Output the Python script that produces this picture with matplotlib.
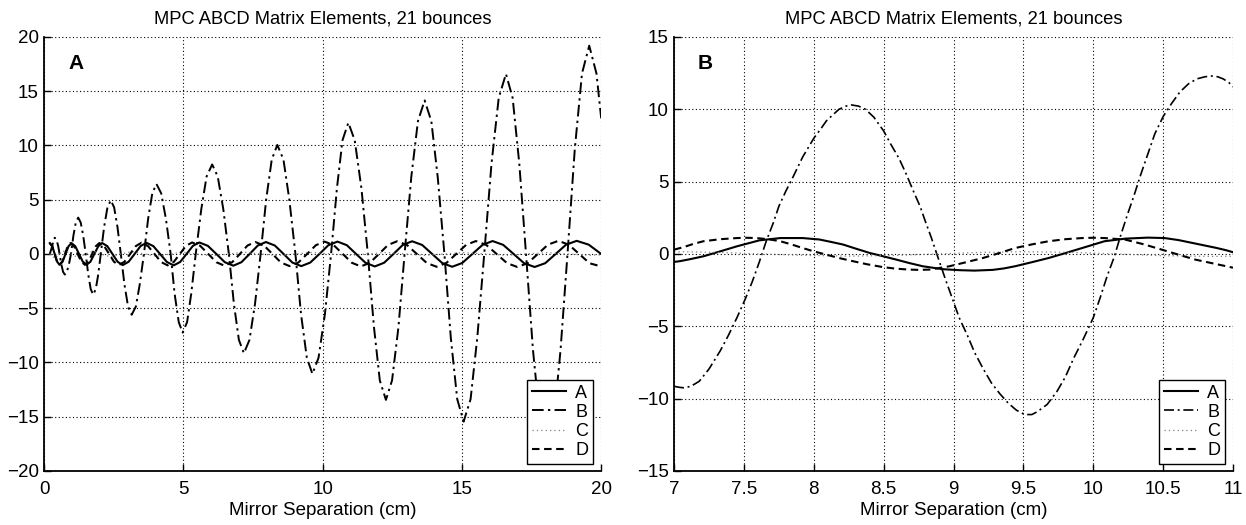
import matplotlib
matplotlib.use("Agg")
import matplotlib.pyplot as plt
from matplotlib.ticker import FixedLocator, FixedFormatter

plt.rcParams['font.family'] = ['Liberation Sans', 'DejaVu Sans']

# ---------------- data: panel A (0 - 20 cm) ----------------
title_text = "MPC ABCD Matrix Elements, 21 bounces"
xlabel_text = "Mirror Separation (cm)"
series_names = ["A", "B", "C", "D"]

xa_A = [0.20, 0.2875, 0.375, 0.4625,
        0.55, 0.6575, 0.765, 0.8725,
        0.98, 1.115, 1.25, 1.385,
        1.52, 1.66, 1.80, 1.94,
        2.08, 2.265, 2.45, 2.635,
        2.82, 3.03, 3.245, 3.46,
        3.67, 3.915, 4.16, 4.405,
        4.65, 4.88, 5.11, 5.34,
        5.57, 5.875, 6.18, 6.485,
        6.79, 7.08, 7.375, 7.67,
        7.96, 8.28, 8.595, 8.91,
        9.23, 9.555, 9.88, 10.205,
        10.53, 10.865, 11.20, 11.535,
        11.87, 12.205, 12.54, 12.875,
        13.21, 13.57, 13.93, 14.29,
        14.65, 15.01, 15.375, 15.74,
        16.10, 16.48, 16.855, 17.23,
        17.61, 17.99, 18.365, 18.74,
        19.12, 19.55, 20.0]
ya_A = [1.0, 0.71, 0.0, -0.71,
        -1.0, -0.71, 0.0, 0.71,
        1.0, 0.71, 0.0, -0.71,
        -1.0, -0.71, 0.0, 0.71,
        1.01, 0.72, 0.0, -0.72,
        -1.02, -0.72, 0.0, 0.73,
        1.03, 0.73, 0.0, -0.74,
        -1.05, -0.74, 0.0, 0.75,
        1.06, 0.75, 0.0, -0.76,
        -1.08, -0.76, 0.0, 0.78,
        1.10, 0.78, 0.0, -0.79,
        -1.12, -0.79, 0.0, 0.81,
        1.14, 0.81, 0.0, -0.81,
        -1.15, -0.81, 0.0, 0.83,
        1.17, 0.83, 0.0, -0.83,
        -1.18, -0.83, 0.0, 0.84,
        1.19, 0.84, 0.0, -0.85,
        -1.20, -0.85, 0.0, 0.86,
        1.21, 0.86, 0.0]

xa_B = [0.20, 0.29, 0.33, 0.38, 0.44, 0.50, 0.55,
        0.613, 0.677, 0.74, 0.813, 0.887, 0.96,
        1.047, 1.133, 1.22, 1.31, 1.40, 1.49,
        1.58, 1.67, 1.76, 1.85, 1.94, 2.03,
        2.15, 2.27, 2.39, 2.51, 2.63, 2.75,
        2.88, 3.01, 3.14, 3.29, 3.43, 3.58,
        3.73, 3.88, 4.03, 4.20, 4.37, 4.54,
        4.68, 4.83, 4.97, 5.13, 5.28, 5.44,
        5.64, 5.83, 6.03, 6.23, 6.43, 6.63,
        6.81, 6.99, 7.17, 7.37, 7.57, 7.77,
        7.97, 8.17, 8.37, 8.59, 8.80, 9.02,
        9.22, 9.43, 9.63, 9.85, 10.08, 10.30,
        10.51, 10.71, 10.92, 11.15, 11.39, 11.62,
        11.84, 12.05, 12.27, 12.49, 12.72, 12.94,
        13.18, 13.42, 13.66, 13.90, 14.13, 14.37,
        14.60, 14.83, 15.06, 15.31, 15.55, 15.80,
        16.06, 16.32, 16.58, 16.82, 17.06, 17.30,
        17.55, 17.80, 18.05, 18.30, 18.54, 18.79,
        19.05, 19.31, 19.57, 19.83, 20.0]
ya_B = [0.0, 0.75, 1.3, 1.5, 1.3, 0.75, 0.0,
        -0.95, -1.65, -1.9, -1.65, -0.95, 0.0,
        1.68, 2.9, 3.35, 2.9, 1.68, 0.0,
        -1.88, -3.25, -3.75, -3.25, -1.88, 0.0,
        2.48, 4.29, 4.95, 4.29, 2.48, 0.0,
        -2.8, -4.85, -5.6, -4.85, -2.8, 0.0,
        3.23, 5.59, 6.45, 5.59, 3.23, 0.0,
        -3.63, -6.28, -7.25, -6.28, -3.63, 0.0,
        4.13, 7.14, 8.25, 7.14, 4.13, 0.0,
        -4.58, -7.92, -9.15, -7.92, -4.58, 0.0,
        5.03, 8.70, 10.05, 8.70, 5.03, 0.0,
        -5.53, -9.57, -11.05, -9.57, -5.53, 0.0,
        6.05, 10.48, 12.1, 10.48, 6.05, 0.0,
        -6.73, -11.65, -13.45, -11.65, -6.73, 0.0,
        7.08, 12.25, 14.15, 12.25, 7.08, 0.0,
        -7.73, -13.38, -15.45, -13.38, -7.73, 0.0,
        8.3, 14.38, 16.6, 14.38, 8.3, 0.0,
        -8.85, -15.33, -17.7, -15.33, -8.85, 0.0,
        9.6, 16.63, 19.2, 16.63, 12.5]

xa_C = [0.20, 0.38, 0.55, 0.74, 0.96, 1.22, 1.49, 1.76, 2.03, 2.39, 2.75, 3.14,
        3.58, 4.03, 4.54, 4.97, 5.44, 6.03, 6.63, 7.17, 7.77, 8.37, 9.02, 9.63,
        10.30, 10.92, 11.62, 12.27, 12.94, 13.66, 14.37, 15.06, 15.80, 16.58,
        17.30, 18.05, 18.79, 19.57, 20.0]
ya_C = [0.0, -0.4, 0.0, 0.32, 0.0, -0.34, 0.0, 0.27, 0.0, -0.26, 0.0, 0.22,
        0.0, -0.2, 0.0, 0.18, 0.0, -0.17, 0.0, 0.16, 0.0, -0.15, 0.0, 0.14,
        0.0, -0.14, 0.0, 0.14, 0.0, -0.13, 0.0, 0.13, 0.0, -0.13,
        0.0, 0.12, 0.0, -0.12, -0.08]

xa_D = [0.20, 0.2875, 0.375, 0.46,
        0.55, 0.6475, 0.745, 0.8425,
        0.94, 1.07, 1.20, 1.33,
        1.46, 1.59, 1.72, 1.85,
        1.98, 2.155, 2.33, 2.505,
        2.68, 2.88, 3.085, 3.29,
        3.49, 3.725, 3.96, 4.195,
        4.43, 4.65, 4.87, 5.09,
        5.31, 5.60, 5.89, 6.18,
        6.47, 6.75, 7.025, 7.30,
        7.58, 7.89, 8.195, 8.50,
        8.81, 9.125, 9.44, 9.755,
        10.07, 10.395, 10.72, 11.045,
        11.37, 11.695, 12.02, 12.345,
        12.67, 13.025, 13.38, 13.735,
        14.09, 14.44, 14.795, 15.15,
        15.50, 15.87, 16.245, 16.62,
        16.99, 17.36, 17.725, 18.09,
        18.46, 18.835, 19.21, 19.585,
        20.0]
ya_D = [1.0, 0.71, 0.0, -0.71,
        -1.0, -0.71, 0.0, 0.71,
        1.0, 0.71, 0.0, -0.71,
        -1.0, -0.71, 0.0, 0.71,
        1.01, 0.72, 0.0, -0.72,
        -1.02, -0.72, 0.0, 0.73,
        1.03, 0.73, 0.0, -0.74,
        -1.05, -0.74, 0.0, 0.75,
        1.06, 0.75, 0.0, -0.76,
        -1.08, -0.76, 0.0, 0.78,
        1.10, 0.78, 0.0, -0.79,
        -1.12, -0.79, 0.0, 0.81,
        1.14, 0.81, 0.0, -0.81,
        -1.15, -0.81, 0.0, 0.83,
        1.17, 0.83, 0.0, -0.83,
        -1.18, -0.83, 0.0, 0.84,
        1.19, 0.84, 0.0, -0.85,
        -1.20, -0.85, 0.0, 0.86,
        1.21, 0.86, 0.0, -0.86,
        -1.15]

# ---------------- data: panel B (7 - 11 cm) ----------------
xb_A = [7.0, 7.04, 7.12, 7.21, 7.33, 7.45, 7.61, 7.76, 7.92, 8.04, 8.12, 8.21, 8.30,
        8.40, 8.50, 8.59, 8.68, 8.78, 8.92, 9.04, 9.15, 9.28, 9.36, 9.44, 9.56, 9.68,
        9.80, 9.92, 10.08, 10.23, 10.39, 10.51, 10.61, 10.71, 10.80, 10.88, 10.95, 11.0]
yb_A = [-0.55, -0.5, -0.35, -0.16, 0.18, 0.53, 0.94, 1.1, 1.1, 1.0, 0.84, 0.65, 0.37,
        0.07, -0.17, -0.39, -0.62, -0.85, -1.05, -1.12, -1.15, -1.1, -1.0, -0.85, -0.57,
        -0.28, 0.06, 0.41, 0.88, 1.06, 1.13, 1.1, 0.96, 0.76, 0.58, 0.42, 0.26, 0.12]

xb_B = [7.0, 7.04, 7.07, 7.12, 7.18, 7.25, 7.33, 7.39, 7.45, 7.51, 7.56, 7.61, 7.66,
        7.71, 7.75, 7.80, 7.85, 7.92, 8.0, 8.05, 8.09, 8.14, 8.18, 8.23, 8.27, 8.32,
        8.37, 8.43, 8.5, 8.55, 8.61, 8.66, 8.71, 8.76, 8.80, 8.84, 8.88, 8.94, 8.99,
        9.04, 9.10, 9.15, 9.21, 9.27, 9.33, 9.39, 9.45, 9.51, 9.56, 9.60, 9.67, 9.74,
        9.80, 9.86, 9.93, 10.0, 10.05, 10.1, 10.15, 10.19, 10.24, 10.29, 10.34, 10.39,
        10.44, 10.5, 10.56, 10.62, 10.68, 10.74, 10.80, 10.85, 10.89, 10.93, 10.97, 11.0]
yb_B = [-9.15, -9.22, -9.25, -9.15, -8.8, -7.95, -6.7, -5.6, -4.4, -3.1, -1.9, -0.55, 0.9,
        2.15, 3.3, 4.35, 5.3, 6.7, 8.0, 8.65, 9.2, 9.65, 10.0, 10.22, 10.3, 10.22,
        10.0, 9.45, 8.5, 7.6, 6.6, 5.55, 4.4, 3.3, 2.2, 1.15, 0.0, -1.7, -3.05,
        -4.4, -5.65, -6.8, -7.9, -8.9, -9.65, -10.3, -10.8, -11.1, -11.1, -10.9, -10.4, -9.5,
        -8.5, -7.2, -5.85, -4.4, -3.0, -1.5, -0.2, 1.1, 2.6, 4.0, 5.5, 6.9,
        8.3, 9.5, 10.4, 11.2, 11.75, 12.1, 12.25, 12.3, 12.25, 12.1, 11.85, 11.55]

xb_C = [7.0, 7.07, 7.35, 7.62, 7.95, 8.27, 8.58, 8.88, 9.2, 9.51, 9.85, 10.17, 10.5, 10.85, 11.0]
yb_C = [0.14, 0.15, 0.1, 0.0, -0.1, -0.15, -0.1, 0.0, 0.11, 0.16, 0.11, 0.0, -0.12, -0.17, -0.16]

xb_D = [7.0, 7.07, 7.14, 7.21, 7.33, 7.45, 7.52, 7.59, 7.68, 7.76, 7.84, 7.92, 8.0, 8.09,
        8.18, 8.28, 8.38, 8.49, 8.58, 8.68, 8.75, 8.83, 8.97, 9.09, 9.21, 9.33, 9.44,
        9.56, 9.68, 9.80, 9.92, 10.0, 10.08, 10.23, 10.36, 10.49, 10.61, 10.73, 10.88, 11.0]
yb_D = [0.3, 0.48, 0.7, 0.88, 1.02, 1.1, 1.12, 1.1, 1.01, 0.88, 0.66, 0.41, 0.18, -0.05,
        -0.28, -0.5, -0.71, -0.9, -1.01, -1.08, -1.1, -1.08, -0.85, -0.57, -0.28, 0.07, 0.41,
        0.66, 0.88, 1.02, 1.1, 1.12, 1.1, 0.99, 0.67, 0.3, -0.05, -0.39, -0.7, -0.95]

# ticks
xa_ticks = [0, 5, 10, 15, 20]
ya_ticks = [-20, -15, -10, -5, 0, 5, 10, 15, 20]
xb_ticks = [7, 7.5, 8, 8.5, 9, 9.5, 10, 10.5, 11]
xb_ticklabels = ["7", "7.5", "8", "8.5", "9", "9.5", "10", "10.5", "11"]
yb_ticks = [-15, -10, -5, 0, 5, 10, 15]

# ---------------- drawing ----------------
fig = plt.figure(figsize=(12.46, 5.25), dpi=100)
axA = fig.add_axes([0.0355, 0.1029, 0.447, 0.8267])
axB = fig.add_axes([0.541, 0.1029, 0.4486, 0.8267])


def draw(ax, xs, ys, lw_main, lw_b):
    (xA, xB, xC, xD) = xs
    (yA, yB, yC, yD) = ys
    ax.plot(xA, yA, color='k', lw=lw_main, ls='-', label=series_names[0],
            solid_joinstyle='round')
    ax.plot(xB, yB, color='k', lw=lw_b, dashes=(6, 2.2, 1.2, 2.2), label=series_names[1])
    ax.plot(xC, yC, color='0.5', lw=0.9, dashes=(1, 2.5), label=series_names[2])
    ax.plot(xD, yD, color='k', lw=lw_main, dashes=(3.6, 2.2), label=series_names[3])


draw(axA, (xa_A, xa_B, xa_C, xa_D), (ya_A, ya_B, ya_C, ya_D), 1.5, 1.4)
draw(axB, (xb_A, xb_B, xb_C, xb_D), (yb_A, yb_B, yb_C, yb_D), 1.5, 1.2)

axA.set_xlim(0, 20)
axA.set_ylim(-20, 20)
axA.xaxis.set_major_locator(FixedLocator(xa_ticks))
axA.yaxis.set_major_locator(FixedLocator(ya_ticks))

axB.set_xlim(7, 11)
axB.set_ylim(-15, 15)
axB.xaxis.set_major_locator(FixedLocator(xb_ticks))
axB.xaxis.set_major_formatter(FixedFormatter(xb_ticklabels))
axB.yaxis.set_major_locator(FixedLocator(yb_ticks))

for ax, letter in ((axA, "A"), (axB, "B")):
    ax.grid(True, color='k', ls=(0, (1, 2.2)), lw=0.8)
    ax.set_axisbelow(True)
    for side in ('top', 'right'):
        ax.spines[side].set_visible(False)
    for side in ('left', 'bottom'):
        ax.spines[side].set_linewidth(1.3)
    ax.tick_params(axis='both', direction='in', length=5, width=1, labelsize=13.5)
    ax.tick_params(axis='x', pad=7)
    ax.tick_params(axis='y', pad=4)
    ax.set_title(title_text, fontsize=13.2, pad=10)
    ax.set_xlabel(xlabel_text, fontsize=13.5, labelpad=3)
    ax.text(0.043, 0.938, letter, transform=ax.transAxes, fontsize=15,
            fontweight='bold', va='center', ha='left')
    leg = ax.legend(loc='lower right', bbox_to_anchor=(0.985, 0.017),
                    fontsize=13, fancybox=False, framealpha=1, edgecolor='k',
                    borderpad=0.25, labelspacing=0.12, handlelength=1.9,
                    handletextpad=0.5, borderaxespad=0)
    leg.get_frame().set_linewidth(1.0)

fig.savefig("out.png", dpi=100)
